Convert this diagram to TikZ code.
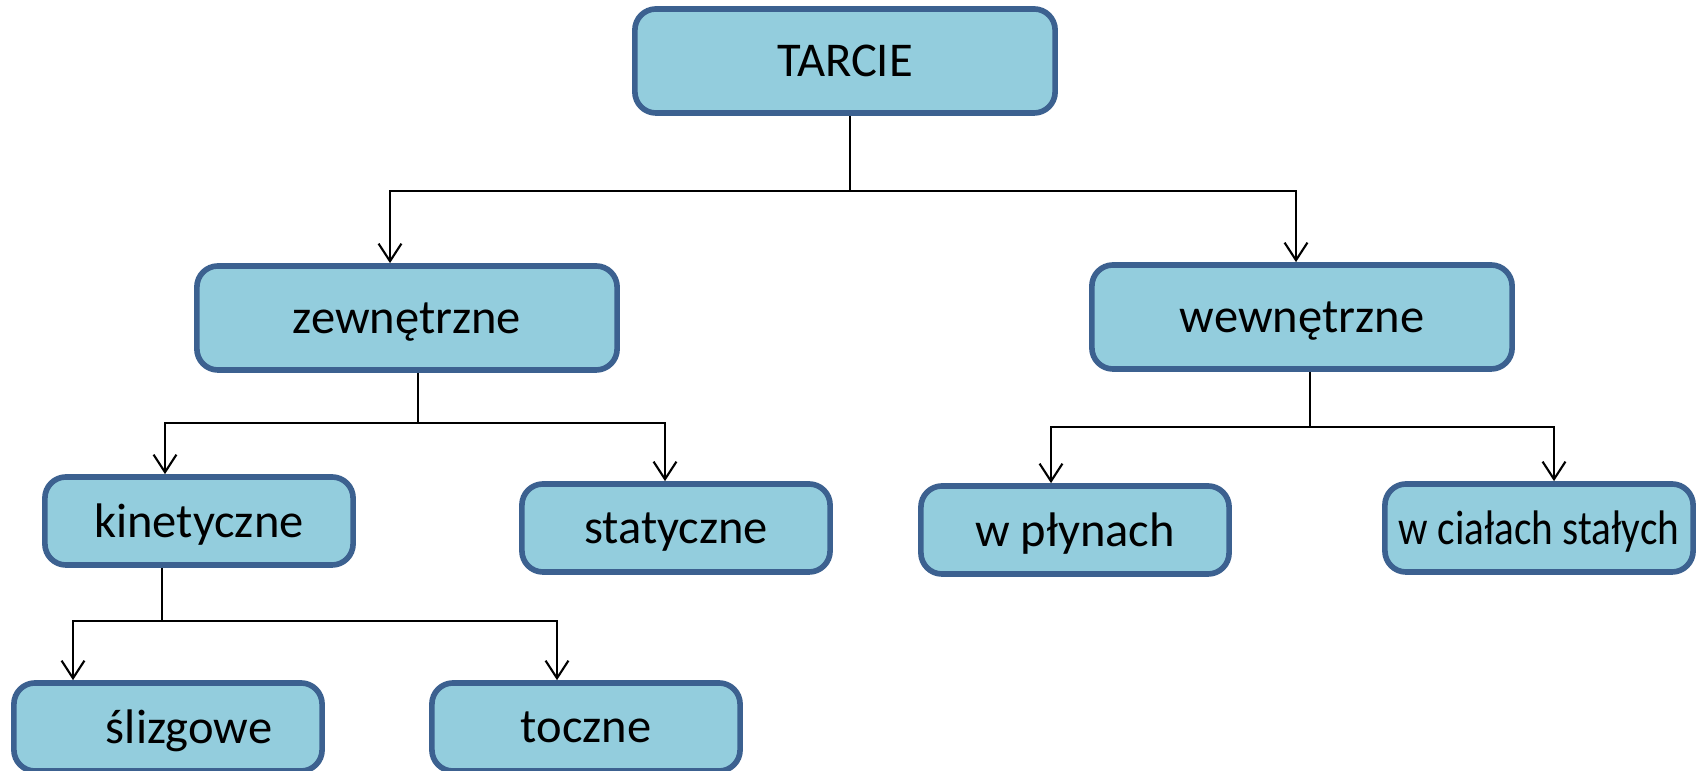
\documentclass[tikz,border=0pt]{standalone}
\usepackage{fontspec}
\setmainfont{Carlito}
\usepackage{xcolor}
\usepackage{tikz}
\usetikzlibrary{arrows.meta, calc}

\definecolor{boxfill}{HTML}{93CDDD}
\definecolor{boxline}{HTML}{3C6190}

\tikzset{
    box/.style={draw=boxline, fill=boxfill, line width=1.6pt, rounded corners=6pt,
        inner sep=0pt, text depth=0pt, font=\fontsize{13.8}{16}\selectfont},
    bigbox/.style={box, minimum width=4.2cm, minimum height=1.04cm},
    smallbox/.style={box, minimum width=3.08cm, minimum height=0.88cm},
    link/.style={line width=0.6pt},
    arr/.style={link, -{Straight Barb[length=5pt,width=6.5pt]}},
}

\begin{document}
\begin{tikzpicture}[x=0.01cm, y=-0.01cm]
    \useasboundingbox (0,0) rectangle (1700,771);
    \clip (0,0) rectangle (1700,771);

    % top
    \node[bigbox] (tarcie) at (845,61) {TARCIE};

    % second level
    \node[bigbox] (zewn) at (407,318) {zewnętrzne};
    \node[bigbox] (wewn) at (1302,317) {wewnętrzne};

    % third level
    \node[smallbox] (kinet) at (199,521) {kinetyczne};
    \node[smallbox] (statyc) at (676,528) {statyczne};
    \node[smallbox] (plyn) at (1075,530) {w płynach};
    \node[smallbox] (stale) at (1539,528) {\scalebox{0.85}[1]{w ciałach stałych}};

    % fourth level
    \node[smallbox] (slizg) at (168,727) {\hspace{12pt}ślizgowe};
    \node[smallbox] (toczne) at (586,727) {toczne};

    % connectors
    \draw[link] (tarcie.south) ++(5,0) -- ++(0,75) coordinate (j0);
    \draw[arr] (j0) -| ($(zewn.north)+(-17,0)$);
    \draw[arr] (j0) -| ($(wewn.north)+(-6,0)$);

    \draw[link] (zewn.south) ++(11,0) -- ++(0,50) coordinate (j1);
    \draw[arr] (j1) -| ($(kinet.north)+(-34,0)$);
    \draw[arr] (j1) -| ($(statyc.north)+(-11,0)$);

    \draw[link] (wewn.south) ++(8,0) -- ++(0,55) coordinate (j2);
    \draw[arr] (j2) -| ($(plyn.north)+(-24,0)$);
    \draw[arr] (j2) -| ($(stale.north)+(15,0)$);

    \draw[link] (kinet.south) ++(-37,0) -- ++(0,53) coordinate (j3);
    \draw[arr] (j3) -| ($(slizg.north)+(-95,0)$);
    \draw[arr] (j3) -| ($(toczne.north)+(-29,0)$);
\end{tikzpicture}
\end{document}
